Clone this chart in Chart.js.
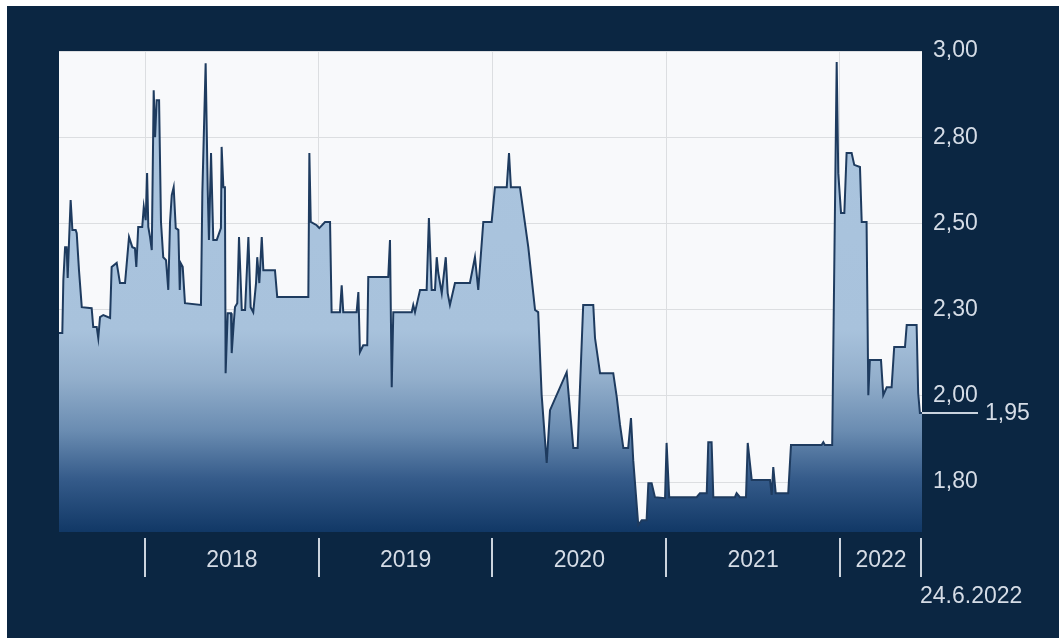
<!DOCTYPE html>
<html>
<head>
<meta charset="utf-8">
<script src="https://cdn.jsdelivr.net/npm/chart.js@4.4.1/dist/chart.umd.min.js"></script>
<style>
  html, body { margin: 0; padding: 0; background: #ffffff; }
  canvas { display: block; }
</style>
</head>
<body>
<canvas id="c" width="1059" height="638"></canvas>
<script>
// ---- data (decimal years, price) ----
const dates = [
  2017.505, 2017.524, 2017.530, 2017.540, 2017.549, 2017.555, 2017.563, 2017.572, 2017.582, 2017.601,
  2017.607, 2017.620, 2017.636, 2017.693, 2017.702, 2017.722, 2017.731, 2017.741, 2017.760, 2017.799,
  2017.808, 2017.837, 2017.856, 2017.885, 2017.908, 2017.927, 2017.942, 2017.950, 2017.961, 2017.984,
  2017.993, 2018.004, 2018.012, 2018.019, 2018.029, 2018.039, 2018.050, 2018.058, 2018.067, 2018.081,
  2018.092, 2018.105, 2018.121, 2018.134, 2018.144, 2018.154, 2018.165, 2018.177, 2018.192, 2018.200,
  2018.205, 2018.217, 2018.230, 2018.322, 2018.330, 2018.349, 2018.361, 2018.368, 2018.380, 2018.393,
  2018.413, 2018.437, 2018.441, 2018.451, 2018.460, 2018.464, 2018.476, 2018.495, 2018.499, 2018.512,
  2018.518, 2018.531, 2018.541, 2018.557, 2018.576, 2018.595, 2018.608, 2018.623, 2018.639, 2018.646,
  2018.658, 2018.672, 2018.681, 2018.748, 2018.761, 2018.940, 2018.946, 2018.954, 2018.988, 2019.003,
  2019.036, 2019.065, 2019.074, 2019.122, 2019.132, 2019.141, 2019.218, 2019.228, 2019.237, 2019.256,
  2019.279, 2019.285, 2019.400, 2019.410, 2019.420, 2019.429, 2019.535, 2019.544, 2019.554, 2019.583,
  2019.621, 2019.634, 2019.650, 2019.669, 2019.679, 2019.688, 2019.708, 2019.731, 2019.742, 2019.755,
  2019.784, 2019.870, 2019.899, 2019.918, 2019.947, 2019.995, 2020.014, 2020.082, 2020.095, 2020.106,
  2020.158, 2020.206, 2020.245, 2020.263, 2020.283, 2020.312, 2020.331, 2020.427, 2020.465, 2020.490,
  2020.522, 2020.580, 2020.590, 2020.619, 2020.695, 2020.715, 2020.734, 2020.753, 2020.781, 2020.797,
  2020.810, 2020.839, 2020.859, 2020.887, 2020.897, 2020.916, 2020.935, 2020.993, 2021.002, 2021.017,
  2021.175, 2021.194, 2021.233, 2021.242, 2021.261, 2021.271, 2021.395, 2021.405, 2021.424, 2021.459,
  2021.469, 2021.492, 2021.597, 2021.607, 2021.616, 2021.630, 2021.702, 2021.718, 2021.894, 2021.904,
  2021.913, 2021.955, 2021.981, 2021.990, 2022.006, 2022.025, 2022.038, 2022.067, 2022.082, 2022.115,
  2022.125, 2022.153, 2022.163, 2022.172, 2022.236, 2022.249, 2022.269, 2022.297, 2022.312, 2022.374,
  2022.384, 2022.441, 2022.450, 2022.460, 2022.472
];
const prices = [
  2.215, 2.215, 2.362, 2.454, 2.454, 2.368, 2.474, 2.585, 2.502, 2.502,
  2.493, 2.390, 2.287, 2.284, 2.232, 2.232, 2.201, 2.259, 2.265, 2.257,
  2.399, 2.410, 2.354, 2.354, 2.482, 2.454, 2.451, 2.399, 2.510, 2.510,
  2.566, 2.529, 2.660, 2.510, 2.482, 2.446, 2.891, 2.760, 2.863, 2.863,
  2.524, 2.426, 2.418, 2.335, 2.524, 2.599, 2.621, 2.507, 2.502, 2.335,
  2.410, 2.399, 2.298, 2.293, 2.605, 2.966, 2.613, 2.474, 2.716, 2.474,
  2.474, 2.507, 2.733, 2.621, 2.621, 2.103, 2.270, 2.270, 2.159, 2.251,
  2.287, 2.298, 2.482, 2.279, 2.279, 2.482, 2.287, 2.273, 2.354, 2.426,
  2.354, 2.482, 2.390, 2.390, 2.315, 2.315, 2.716, 2.524, 2.515, 2.507,
  2.524, 2.524, 2.273, 2.273, 2.348, 2.273, 2.273, 2.329, 2.162, 2.181,
  2.181, 2.371, 2.371, 2.474, 2.064, 2.273, 2.273, 2.293, 2.273, 2.335,
  2.335, 2.535, 2.335, 2.335, 2.426, 2.382, 2.326, 2.426, 2.326, 2.293,
  2.354, 2.354, 2.426, 2.335, 2.524, 2.524, 2.621, 2.621, 2.716, 2.621,
  2.621, 2.454, 2.279, 2.273, 2.042, 1.853, 2.000, 2.106, 1.895, 1.895,
  2.293, 2.293, 2.201, 2.103, 2.103, 2.037, 1.959, 1.895, 1.895, 1.978,
  1.861, 1.680, 1.694, 1.694, 1.797, 1.797, 1.758, 1.755, 1.909, 1.758,
  1.758, 1.769, 1.769, 1.911, 1.911, 1.758, 1.758, 1.769, 1.758, 1.758,
  1.909, 1.806, 1.806, 1.764, 1.842, 1.769, 1.769, 1.903, 1.903, 1.911,
  1.903, 1.903, 2.969, 2.660, 2.549, 2.549, 2.716, 2.716, 2.683, 2.677,
  2.524, 2.524, 2.042, 2.140, 2.140, 2.042, 2.064, 2.064, 2.176, 2.176,
  2.237, 2.237, 2.048, 1.992, 1.992
];
const yearStarts = [2018, 2019, 2020, 2021, 2022];
const yearLabels = ['2018', '2019', '2020', '2021', '2022'];
const yTickValues = [1.8, 2.04, 2.28, 2.52, 2.76, 3.0];
const yTickLabels = ['1,80', '2,00', '2,30', '2,50', '2,80', '3,00'];
const lastPriceLabel = '1,95';
const lastDateLabel = '24.6.2022';

// ---- styling ----
const FONT = '"Liberation Sans", Arial, Helvetica, sans-serif';
const TEXT = '#d5dce6';
const NAVY = '#0b2642';

const points = dates.map((d, i) => ({ x: d, y: prices[i] }));
const xMin = dates[0];
const xMax = dates[dates.length - 1];

// x ticks: year boundaries (grid) + midpoints (labels)
const xTicks = [];
yearStarts.forEach((y, i) => {
  const next = i + 1 < yearStarts.length ? yearStarts[i + 1] : xMax;
  xTicks.push({ value: y, kind: 'b' });
  xTicks.push({ value: (y + next) / 2, kind: 'l', label: yearLabels[i] });
});

const decor = {
  id: 'decor',
  beforeDraw(chart) {
    const { ctx, chartArea: a } = chart;
    ctx.save();
    ctx.fillStyle = NAVY;
    ctx.fillRect(7, 6, chart.width - 7, chart.height - 6);
    ctx.fillStyle = '#f8f9fb';
    ctx.fillRect(a.left, a.top, a.right - a.left, a.bottom - a.top);
    ctx.restore();
  },
  afterDraw(chart) {
    const { ctx, chartArea: a } = chart;
    const xs = chart.scales.x, ys = chart.scales.y;
    ctx.save();
    // year separators below the plot
    ctx.strokeStyle = '#cbd3dd';
    ctx.lineWidth = 2;
    [...yearStarts, xMax].forEach(v => {
      let px = Math.round(xs.getPixelForValue(v));
      if (v === xMax) px -= 1;
      ctx.beginPath();
      ctx.moveTo(px, 538);
      ctx.lineTo(px, 577);
      ctx.stroke();
    });
    // last date
    ctx.fillStyle = TEXT;
    ctx.font = '23px ' + FONT;
    ctx.textAlign = 'left';
    ctx.textBaseline = 'middle';
    ctx.fillText(lastDateLabel, Math.round(xs.getPixelForValue(xMax)) - 2, 597);
    // last price marker
    const py = Math.round(ys.getPixelForValue(prices[prices.length - 1]));
    ctx.strokeStyle = '#c9d2dd';
    ctx.lineWidth = 2;
    ctx.beginPath();
    ctx.moveTo(a.right, py);
    ctx.lineTo(978, py);
    ctx.stroke();
    ctx.fillText(lastPriceLabel, 985, py + 1);
    ctx.restore();
  }
};

new Chart(document.getElementById('c'), {
  type: 'line',
  data: {
    datasets: [{
      data: points,
      borderColor: '#1e3b5f',
      borderWidth: 2,
      pointRadius: 0,
      tension: 0,
      fill: 'start',
      backgroundColor(ctx) {
        const a = ctx.chart.chartArea;
        if (!a) return '#a9c3dd';
        const g = ctx.chart.ctx.createLinearGradient(0, a.top, 0, a.bottom);
        g.addColorStop(0, '#abc5df');
        g.addColorStop(0.58, '#a8c2dc');
        g.addColorStop(0.68, '#93afcc');
        g.addColorStop(0.79, '#6a8cb1');
        g.addColorStop(0.89, '#355b8a');
        g.addColorStop(1, '#113866');
        return g;
      }
    }]
  },
  options: {
    responsive: false,
    devicePixelRatio: 1,
    animation: false,
    layout: { padding: { left: 59, top: 51, right: 0, bottom: 0 } },
    plugins: { legend: { display: false }, tooltip: { enabled: false } },
    scales: {
      x: {
        type: 'linear',
        min: xMin,
        max: xMax,
        afterBuildTicks(scale) { scale.ticks = xTicks.map(t => ({ value: t.value })); },
        afterFit(scale) { scale.height = 106; },
        border: { display: false },
        grid: {
          drawTicks: false,
          color(ctx) {
            return ctx.tick && yearStarts.includes(ctx.tick.value) ? '#dcdee1' : 'rgba(0,0,0,0)';
          },
          lineWidth: 1
        },
        ticks: {
          autoSkip: false,
          maxRotation: 0,
          padding: 15,
          color: TEXT,
          font: { family: FONT, size: 23 },
          callback(value, index) {
            const t = xTicks[index];
            return t && t.kind === 'l' ? t.label : '';
          }
        }
      },
      y: {
        type: 'linear',
        position: 'right',
        min: 1.661,
        max: 3.0,
        afterBuildTicks(scale) { scale.ticks = yTickValues.map(v => ({ value: v })); },
        afterFit(scale) { scale.width = 137; },
        border: { display: false },
        grid: { drawTicks: false, color: '#dcdee1', lineWidth: 1 },
        ticks: {
          padding: 11,
          color: TEXT,
          font: { family: FONT, size: 23 },
          callback(value, index) { return yTickLabels[index]; }
        }
      }
    }
  },
  plugins: [decor]
});
</script>
</body>
</html>
